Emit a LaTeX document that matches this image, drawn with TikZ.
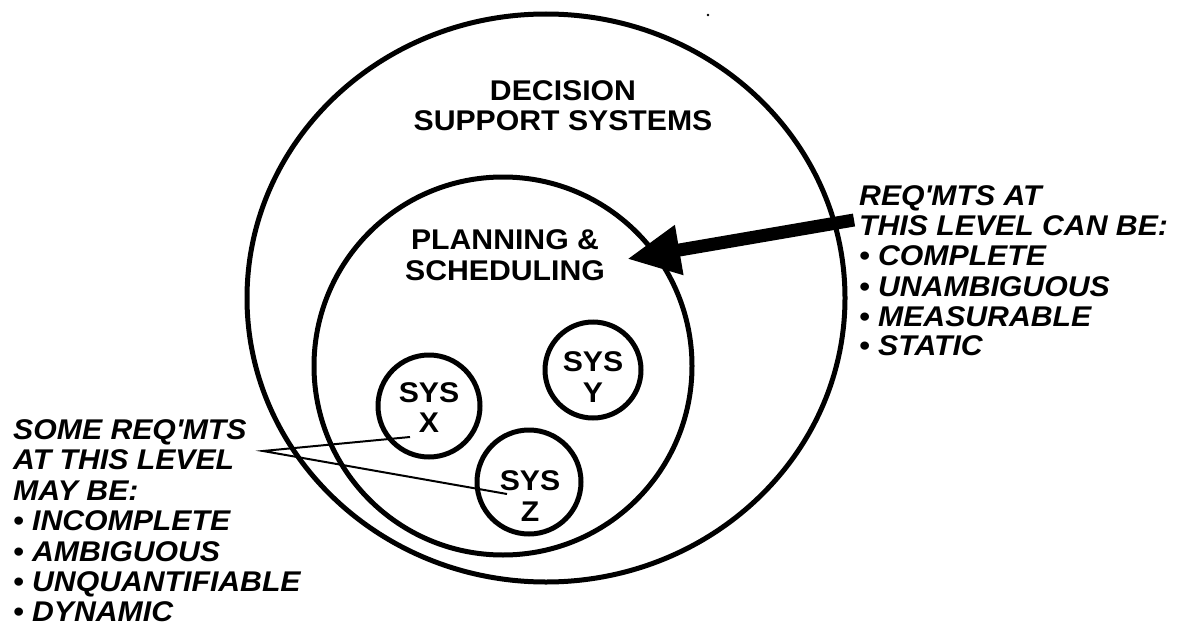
\documentclass[tikz,border=0pt]{standalone}
\usepackage{fontspec}
\setmainfont[FakeStretch=1.06]{Liberation Sans}
\usetikzlibrary{arrows.meta,shapes.geometric}
\begin{document}
\begin{tikzpicture}[x=1pt,y=-1pt,
  ring/.style={draw, line width=5pt, inner sep=0pt},
  lbl/.style={font=\fontsize{28.5}{30}\selectfont\bfseries, inner sep=0pt, anchor=base},
  note/.style={font=\fontsize{28.5}{30}\selectfont\bfseries\itshape, inner sep=0pt, anchor=base west},
  leader/.style={line width=2pt},
  bigarrow/.style={line width=13pt, -{Triangle[length=53pt,width=47pt]}}
]
\useasboundingbox (0,0) rectangle (1186,626);

% circles
\node[ring, ellipse, minimum width=598pt, minimum height=568pt] (dss) at (546,298) {};
\node[ring, circle, minimum size=378pt] (ps) at (503,366) {};
\node[ring, circle, minimum size=102pt] (sysx) at (429,406) {};
\node[ring, circle, minimum size=96pt] (sysy) at (593,370) {};
\node[ring, circle, minimum size=104pt] (sysz) at (529,482) {};

% circle labels
\node[lbl] (dss1) at (563,100) {DECISION};
\node[lbl] (dss2) at (563,130) {SUPPORT SYSTEMS};
\node[lbl] (ps1) at (505,249) {PLANNING \&};
\node[lbl] (ps2) at (505,280) {SCHEDULING};
\node[lbl] (x1) at (429,402) {SYS};
\node[lbl] (x2) at (429,432) {X};
\node[lbl] (y1) at (593,371) {SYS};
\node[lbl] (y2) at (593,402) {Y};
\node[lbl] (z1) at (530,490) {SYS};
\node[lbl] (z2) at (530,521) {Z};

% right note
\node[note] (r1) at (859,205) {REQ\textquotesingle MTS AT};
\node[note] (r2) at (859,235) {THIS LEVEL CAN BE:};
\node[note] (r3) at (859,265) {\textbullet\ COMPLETE};
\node[note] (r4) at (859,296) {\textbullet\ UNAMBIGUOUS};
\node[note] (r5) at (859,326) {\textbullet\ MEASURABLE};
\node[note] (r6) at (859,355) {\textbullet\ STATIC};

% left note
\node[note] (l1) at (13,439) {SOME REQ\textquotesingle MTS};
\node[note] (l2) at (13,469.5) {AT THIS LEVEL};
\node[note] (l3) at (13,500) {MAY BE:};
\node[note] (l4) at (13,530.5) {\textbullet\ INCOMPLETE};
\node[note] (l5) at (13,561) {\textbullet\ AMBIGUOUS};
\node[note] (l6) at (13,591.5) {\textbullet\ UNQUANTIFIABLE};
\node[note] (l7) at (13,621.5) {\textbullet\ DYNAMIC};

% connectors
\coordinate (tail) at (854,220);
\coordinate (tip) at (627,259);
\draw[bigarrow] (tail) -- (tip);

\coordinate (apex) at (263,451);
\coordinate (xend) at (410,437);
\coordinate (zend) at (507,494);
\draw[leader] (xend) -- (apex) -- (zend);

% speck
\fill (708,15) circle (1.3);
\end{tikzpicture}
\end{document}
